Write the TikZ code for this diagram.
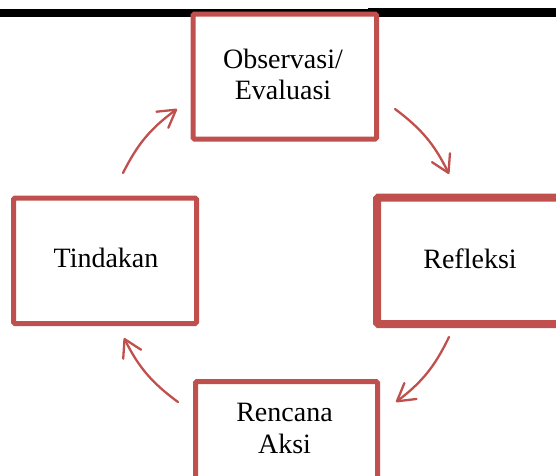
\documentclass[tikz,border=0pt]{standalone}
\usepackage{fontspec}
\setmainfont{Liberation Serif}
\usetikzlibrary{arrows.meta}
\definecolor{boxred}{HTML}{C0504D}
\tikzset{
  x=1pt, y=-1pt,
  cyclebox/.style={draw=boxred, line width=5pt, rounded corners=1.5pt, fill=white, inner sep=0pt},
  lbl/.style={font=\fontsize{28}{32}\selectfont, inner sep=0pt, anchor=base, text=black},
  cyclearrow/.style={draw=boxred, line width=2.3pt, line cap=round,
    -{Straight Barb[length=17pt,width=20pt,line join=round,line cap=round]}, bend left=13.5}
}
\begin{document}
\begin{tikzpicture}
\useasboundingbox (0,0) rectangle (556,475);
% top rule
\fill[black] (0,9) rectangle (556,16.7);
\fill[black] (368,7.7) rectangle (556,9);
% boxes
\node[cyclebox, minimum width=183.5pt, minimum height=125pt] (obs) at (284.75,76.5) {};
\node[cyclebox, minimum width=183pt, minimum height=125.5pt] (tin) at (105,260.75) {};
\node[cyclebox, line width=8pt, minimum width=186pt, minimum height=126.5pt] (ref) at (470,260.75) {};
\node[cyclebox, minimum width=182pt, minimum height=130pt] (ren) at (286.5,446.5) {};
% labels
\node[lbl] (obs1) at (283,68) {Observasi/};
\node[lbl] (obs2) at (283,99.5) {Evaluasi};
\node[lbl] (tin1) at (106,267) {Tindakan};
\node[lbl] (ref1) at (470,268) {Refleksi};
\node[lbl] (ren1) at (284.5,421) {Rencana};
\node[lbl] (ren2) at (284.5,453) {Aksi};
% arrow end points
\coordinate (a1s) at (395,109);
\coordinate (a1e) at (449,174);
\coordinate (a2s) at (449,337);
\coordinate (a2e) at (396,402);
\coordinate (a3s) at (178,402);
\coordinate (a3e) at (124,338);
\coordinate (a4s) at (123,173);
\coordinate (a4e) at (177,109);
\draw[cyclearrow] (a1s) to (a1e);
\draw[cyclearrow] (a2s) to (a2e);
\draw[cyclearrow] (a3s) to (a3e);
\draw[cyclearrow] (a4s) to (a4e);
\end{tikzpicture}
\end{document}
